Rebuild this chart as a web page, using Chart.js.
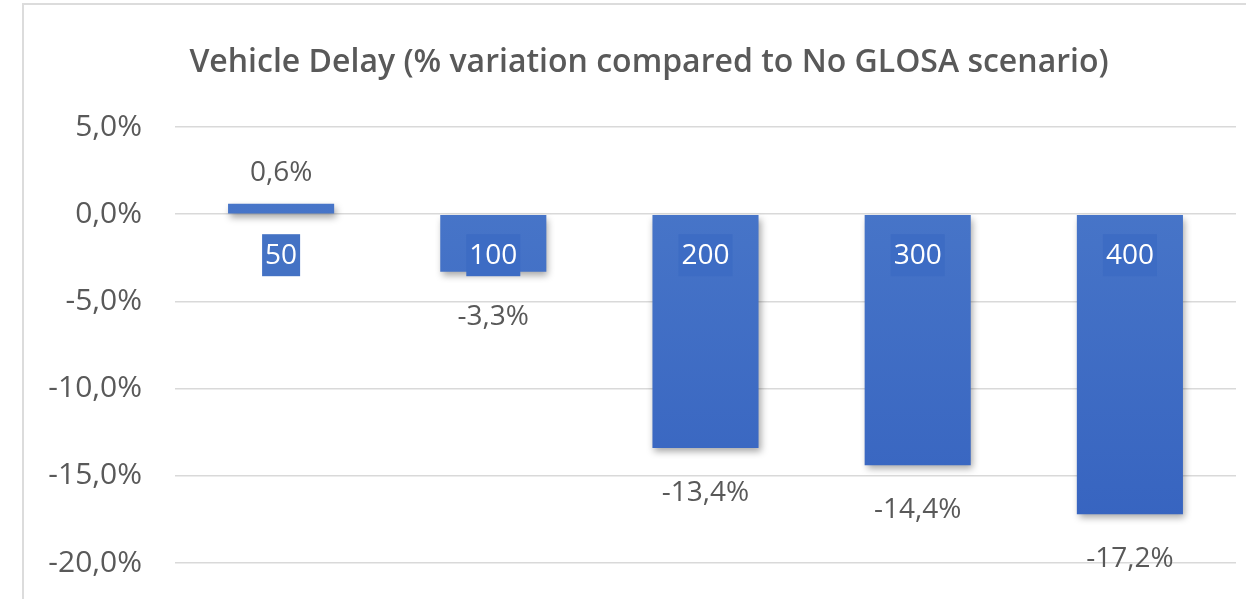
<!DOCTYPE html>
<html>
<head>
<meta charset="utf-8">
<script src="https://cdn.jsdelivr.net/npm/chart.js@4.4.1/dist/chart.umd.min.js"></script>
<style>
  html, body { margin: 0; padding: 0; background: #fff; }
  #wrap { position: relative; width: 1246px; height: 599px; overflow: hidden; }
  #myChart { display: block; }
  #frame {
    position: absolute; left: 22px; top: 3px; right: -5px; bottom: -5px;
    border-left: 2px solid #dcdcdc; border-top: 2px solid #dcdcdc;
    pointer-events: none;
  }
</style>
</head>
<body>
<div id="wrap">
  <canvas id="myChart" width="1246" height="599"></canvas>
  <div id="frame"></div>
</div>
<script>
// distance from No GLOSA baseline, in percent
const categories = ['50', '100', '200', '300', '400'];
const delayVariation = [0.6, -3.3, -13.4, -14.4, -17.2];
const yMin = -20;
const yMax = 5;
const yStep = 5;

const chartTitle = 'Vehicle Delay (% variation compared to No GLOSA scenario)';
const textGray = '#595959';
const fontFamily = "'Open Sans', 'Liberation Sans', sans-serif";

function pct(v) {
  return v.toFixed(1).replace('.', ',') + '%';
}

// title sits centred on the framed area, not the canvas
const titleText = {
  id: 'titleText',
  afterDraw(chart) {
    const ctx = chart.ctx;
    ctx.save();
    ctx.font = '600 32px ' + fontFamily;
    ctx.fillStyle = textGray;
    ctx.textAlign = 'center';
    ctx.textBaseline = 'middle';
    ctx.fillText(chartTitle, 649, 63);
    ctx.restore();
  }
};

// soft drop shadow under the bars
const barShadow = {
  id: 'barShadow',
  beforeDatasetsDraw(chart) {
    const ctx = chart.ctx;
    ctx.save();
    ctx.shadowColor = 'rgba(0, 0, 0, 0.35)';
    ctx.shadowBlur = 7;
    ctx.shadowOffsetX = 2;
    ctx.shadowOffsetY = 4;
  },
  afterDatasetsDraw(chart) {
    chart.ctx.restore();
  }
};

// value labels outside the bar ends, category boxes under the zero line
const barLabels = {
  id: 'barLabels',
  afterDatasetsDraw(chart) {
    const ctx = chart.ctx;
    const meta = chart.getDatasetMeta(0);
    const xScale = chart.scales.x;
    const yScale = chart.scales.y;
    const zeroY = yScale.getPixelForValue(0);
    ctx.save();
    ctx.shadowColor = 'transparent';
    ctx.font = '28px ' + fontFamily;
    ctx.textAlign = 'center';
    ctx.textBaseline = 'middle';

    meta.data.forEach((bar, i) => {
      const v = delayVariation[i];
      ctx.fillStyle = textGray;
      const y = v >= 0 ? bar.y - 31 : bar.y + 45;
      ctx.fillText(pct(v), bar.x, y);
    });

    categories.forEach((cat, i) => {
      const x = xScale.getPixelForValue(i);
      const w = ctx.measureText(cat).width + 6;
      const h = 42;
      const cy = zeroY + 41;
      ctx.fillStyle = i === 0 ? '#4472c4' : '#3d6cc4';
      ctx.fillRect(x - w / 2, cy - h / 2, w, h);
      ctx.fillStyle = '#ffffff';
      ctx.fillText(cat, x, cy + 1);
    });
    ctx.restore();
  }
};

function barFill(context) {
  const chart = context.chart;
  const area = chart.chartArea;
  if (!area) return '#4472c4';
  const y = chart.scales.y;
  const g = chart.ctx.createLinearGradient(0, y.getPixelForValue(yMax), 0, y.getPixelForValue(yMin));
  g.addColorStop(0, '#4b79ca');
  g.addColorStop(1, '#3562bf');
  return g;
}

const config = {
  type: 'bar',
  data: {
    labels: categories,
    datasets: [{
      data: delayVariation,
      backgroundColor: barFill,
      borderWidth: 0,
      categoryPercentage: 1,
      barPercentage: 0.5
    }]
  },
  options: {
    responsive: false,
    animation: false,
    layout: {
      padding: { left: 22, right: 10, top: 127, bottom: 36 }
    },
    plugins: {
      legend: { display: false },
      tooltip: { enabled: false },
      title: { display: false }
    },
    scales: {
      x: {
        display: false,
        afterFit(scale) {
          scale.height = 0;
        }
      },
      y: {
        min: yMin,
        max: yMax,
        border: { display: false },
        grid: { color: '#d9d9d9', lineWidth: 1.5, drawTicks: false },
        ticks: {
          stepSize: yStep,
          padding: 33,
          color: textGray,
          font: { family: fontFamily, size: 30 },
          callback: v => pct(v)
        },
        afterFit(scale) {
          // the tick gap is horizontal only; keep it out of the vertical padding
          scale.width = 153;
          scale.paddingTop = 18;
          scale.paddingBottom = 18;
        }
      }
    }
  },
  plugins: [barShadow, barLabels, titleText]
};

const myChart = new Chart(document.getElementById('myChart'), config);
</script>
</body>
</html>
